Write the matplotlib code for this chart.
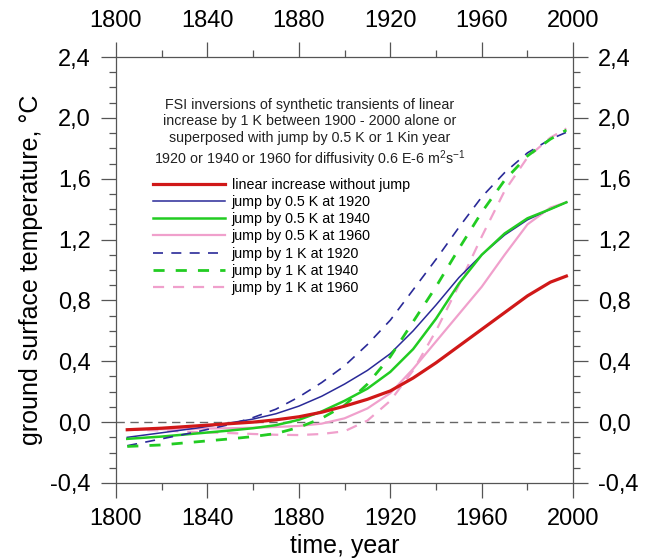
import numpy as np
import matplotlib
matplotlib.use("Agg")
import matplotlib.pyplot as plt
from matplotlib.ticker import MultipleLocator, FuncFormatter

plt.rcParams['font.family'] = ['Liberation Sans', 'DejaVu Sans']
plt.rcParams['mathtext.default'] = 'regular'

# values (year, temperature in K)
years = [1805, 1820, 1835, 1850, 1860, 1870, 1880, 1890, 1900, 1910,
         1920, 1930, 1940, 1950, 1960, 1970, 1980, 1990, 1997]

linear = [-0.05, -0.04, -0.025, -0.01, 0.0, 0.015, 0.035, 0.065, 0.105, 0.15,
          0.205, 0.29, 0.39, 0.50, 0.61, 0.72, 0.83, 0.92, 0.96]
j05_1920 = [-0.10, -0.07, -0.04, -0.005, 0.02, 0.055, 0.105, 0.17, 0.25, 0.34,
            0.45, 0.60, 0.77, 0.95, 1.10, 1.23, 1.33, 1.40, 1.445]
j05_1940 = [-0.11, -0.095, -0.075, -0.055, -0.04, -0.02, 0.015, 0.07, 0.14, 0.22,
            0.33, 0.48, 0.68, 0.91, 1.10, 1.24, 1.34, 1.40, 1.445]
j05_1960 = [-0.05, -0.047, -0.043, -0.04, -0.037, -0.032, -0.025, -0.01, 0.025, 0.09,
            0.19, 0.35, 0.53, 0.71, 0.89, 1.10, 1.30, 1.41, 1.445]
j1_1920 = [-0.155, -0.11, -0.065, -0.015, 0.03, 0.085, 0.165, 0.26, 0.37, 0.51,
           0.67, 0.87, 1.07, 1.28, 1.48, 1.64, 1.77, 1.86, 1.905]
j1_1940 = [-0.16, -0.15, -0.13, -0.11, -0.095, -0.075, -0.035, 0.025, 0.11, 0.25,
           0.43, 0.66, 0.89, 1.14, 1.38, 1.59, 1.75, 1.86, 1.92]
j1_1960 = [-0.05, -0.055, -0.065, -0.072, -0.078, -0.083, -0.085, -0.078, -0.06, 0.01,
           0.14, 0.34, 0.60, 0.90, 1.22, 1.52, 1.74, 1.87, 1.93]

fig = plt.figure(figsize=(6.47, 5.59), dpi=100)
ax = fig.add_axes([0.179, 0.136, 0.707, 0.762])

ax.axhline(0, color="#666666", lw=1.0, dashes=(6, 4), zorder=1)

ax.plot(years, linear, color="#d01818", lw=2.3, label="linear increase without jump", zorder=5)
ax.plot(years, j05_1920, color="#2a2a98", lw=1.1, label="jump by 0.5 K at 1920", zorder=4)
ax.plot(years, j05_1940, color="#22cc22", lw=1.8, label="jump by 0.5 K at 1940", zorder=4)
ax.plot(years, j05_1960, color="#f0a0cc", lw=1.6, label="jump by 0.5 K at 1960", zorder=3)
ax.plot(years, j1_1920, color="#2a2a98", lw=1.2, dashes=(6, 5), label="jump by 1 K at 1920", zorder=4)
ax.plot(years, j1_1940, color="#22cc22", lw=2.0, dashes=(4, 4), label="jump by 1 K at 1940", zorder=4)
ax.plot(years, j1_1960, color="#f0a0cc", lw=1.6, dashes=(5, 4), label="jump by 1 K at 1960", zorder=3)

ax.set_xlim(1800, 2000)
ax.set_ylim(-0.4, 2.4)
ax.xaxis.set_major_locator(MultipleLocator(40))
ax.xaxis.set_minor_locator(MultipleLocator(20))
ax.yaxis.set_major_locator(MultipleLocator(0.4))
ax.yaxis.set_minor_locator(MultipleLocator(0.1))
ax.yaxis.set_major_formatter(FuncFormatter(lambda v, p: f"{v:.1f}".replace('.', ',')))

ax.tick_params(which="both", direction="out", top=True, right=True,
               labeltop=True, labelright=True, color="#555555")
ax.tick_params(which="major", length=11, width=0.9, labelsize=17, pad=7)
ax.tick_params(which="minor", length=5, width=0.9)
for spine in ax.spines.values():
    spine.set_color("#555555")
    spine.set_linewidth(0.9)

ax.set_xlabel("time, year", fontsize=18, labelpad=3)
ax.set_ylabel("ground surface temperature, °C", fontsize=18, labelpad=5)

fig.text(0.479, 1 - 134 / 559,
         "FSI inversions of synthetic transients of linear\n"
         "increase by 1 K between 1900 - 2000 alone or\n"
         "superposed with jump by 0.5 K or 1 Kin year\n"
         "1920 or 1940 or 1960 for diffusivity 0.6 E-6 m$^{2}$s$^{-1}$",
         ha="center", va="center", fontsize=10.3, linespacing=1.22, color="#222222")

ax.legend(loc="upper left", bbox_to_anchor=(153 / 647, 1 - 178 / 559),
          bbox_transform=fig.transFigure, frameon=False, fontsize=10.3,
          handlelength=5.0, handletextpad=0.5, borderpad=0, borderaxespad=0,
          labelspacing=0.22)

fig.savefig("out.png", dpi=100)
